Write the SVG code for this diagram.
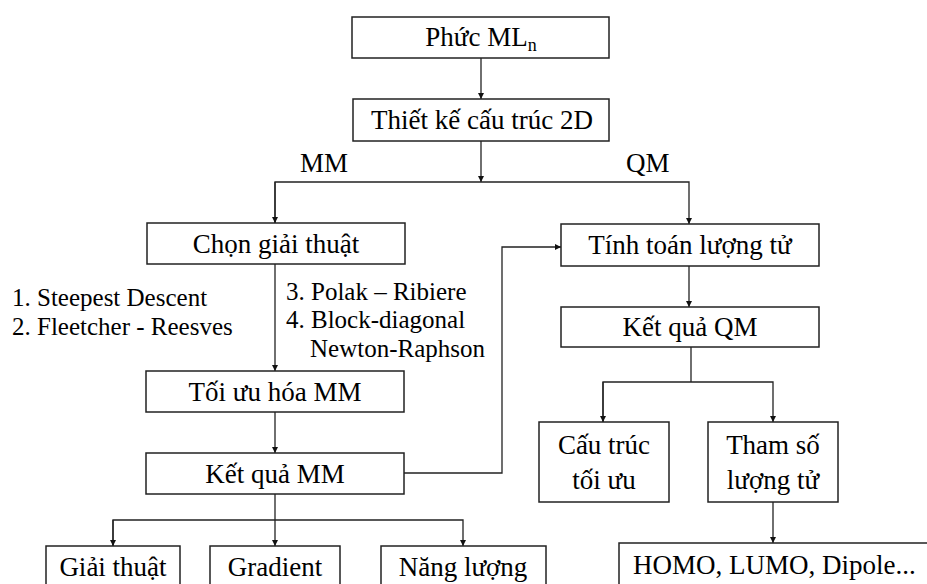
<svg xmlns="http://www.w3.org/2000/svg" width="927" height="584" viewBox="0 0 927 584">
  <style>
    .box { fill: #ffffff; stroke: #222; stroke-width: 1.5; }
    .ln { fill: none; stroke: #222; stroke-width: 1.3; }
    .t { font-family: "Liberation Serif", "Times New Roman", serif; font-size: 27px; fill: #000; }
    .s { font-size: 25px; }
    .c { text-anchor: middle; }
  </style>
  <defs>
    <marker id="arr" viewBox="0 0 10 10" refX="10" refY="5" markerWidth="6" markerHeight="6" markerUnits="userSpaceOnUse" orient="auto">
      <path d="M0,0 L10,5 L0,10 z" fill="#111"/>
    </marker>
  </defs>
  <rect width="927" height="584" fill="#ffffff"/>

  <!-- connectors -->
  <g id="connectors">
    <line class="ln" x1="481" y1="58" x2="481" y2="99" marker-end="url(#arr)"/>
    <line class="ln" x1="481" y1="141" x2="481" y2="182" marker-end="url(#arr)"/>
    <polyline class="ln" points="275,223 275,182 689,182 689,224" marker-end="url(#arr)"/>
    <line class="ln" x1="275" y1="182" x2="275" y2="223" marker-end="url(#arr)"/>
    <line class="ln" x1="275" y1="264" x2="275" y2="371" marker-end="url(#arr)"/>
    <line class="ln" x1="275" y1="412" x2="275" y2="453" marker-end="url(#arr)"/>
    <polyline class="ln" points="404,473 502,473 502,247 561,247" marker-end="url(#arr)"/>
    <line class="ln" x1="275" y1="494" x2="275" y2="546" marker-end="url(#arr)"/>
    <polyline class="ln" points="113,546 113,520 463,520 463,546" marker-end="url(#arr)"/>
    <line class="ln" x1="113" y1="520" x2="113" y2="546" marker-end="url(#arr)"/>
    <line class="ln" x1="689" y1="266" x2="689" y2="307" marker-end="url(#arr)"/>
    <line class="ln" x1="691" y1="347" x2="691" y2="382"/>
    <polyline class="ln" points="603,422 603,382 773,382 773,422" marker-end="url(#arr)"/>
    <line class="ln" x1="603" y1="382" x2="603" y2="422" marker-end="url(#arr)"/>
    <line class="ln" x1="773" y1="502" x2="773" y2="543" marker-end="url(#arr)"/>
  </g>

  <!-- branch labels -->
  <g id="labels">
    <text class="t" x="300" y="172" font-size="26">MM</text>
    <text class="t" x="626" y="172" font-size="26">QM</text>
    <text class="t s" x="12" y="306">1. Steepest Descent</text>
    <text class="t s" x="12" y="335">2. Fleetcher - Reesves</text>
    <text class="t s" x="286" y="300">3. Polak – Ribiere</text>
    <text class="t s" x="286" y="328">4. Block-diagonal</text>
    <text class="t s" x="310" y="357">Newton-Raphson</text>
  </g>

  <g id="n-phuc">
    <rect class="box" x="352" y="17" width="257" height="41"/>
    <text class="t c" x="481" y="46">Phức ML<tspan font-size="18" dy="5">n</tspan></text>
  </g>
  <g id="n-thietke">
    <rect class="box" x="353" y="99" width="256" height="42"/>
    <text class="t c" x="482" y="129">Thiết kế cấu trúc 2D</text>
  </g>
  <g id="n-chon">
    <rect class="box" x="147" y="223" width="258" height="41"/>
    <text class="t c" x="276" y="253">Chọn giải thuật</text>
  </g>
  <g id="n-tinhtoan">
    <rect class="box" x="561" y="224" width="258" height="42"/>
    <text class="t c" x="690" y="254">Tính toán lượng tử</text>
  </g>
  <g id="n-toiuu">
    <rect class="box" x="146" y="371" width="258" height="41"/>
    <text class="t c" x="275" y="401">Tối ưu hóa MM</text>
  </g>
  <g id="n-ketquamm">
    <rect class="box" x="146" y="453" width="258" height="41"/>
    <text class="t c" x="275" y="483">Kết quả MM</text>
  </g>
  <g id="n-ketquaqm">
    <rect class="box" x="561" y="307" width="258" height="40"/>
    <text class="t c" x="690" y="336">Kết quả QM</text>
  </g>
  <g id="n-cautruc">
    <rect class="box" x="539" y="422" width="130" height="80"/>
    <text class="t c" x="604" y="454">Cấu trúc</text>
    <text class="t c" x="604" y="489">tối ưu</text>
  </g>
  <g id="n-thamso">
    <rect class="box" x="708" y="422" width="130" height="80"/>
    <text class="t c" x="773" y="454">Tham số</text>
    <text class="t c" x="773" y="489">lượng tử</text>
  </g>
  <g id="n-homo">
    <rect class="box" x="619" y="543" width="320" height="60"/>
    <text class="t" x="633" y="574">HOMO, LUMO, Dipole...</text>
  </g>
  <g id="n-giaithuat">
    <rect class="box" x="46" y="546" width="134" height="60"/>
    <text class="t c" x="113" y="576">Giải thuật</text>
  </g>
  <g id="n-gradient">
    <rect class="box" x="210" y="546" width="130" height="60"/>
    <text class="t c" x="275" y="576">Gradient</text>
  </g>
  <g id="n-nangluong">
    <rect class="box" x="381" y="546" width="165" height="60"/>
    <text class="t c" x="463" y="576">Năng lượng</text>
  </g>
</svg>
